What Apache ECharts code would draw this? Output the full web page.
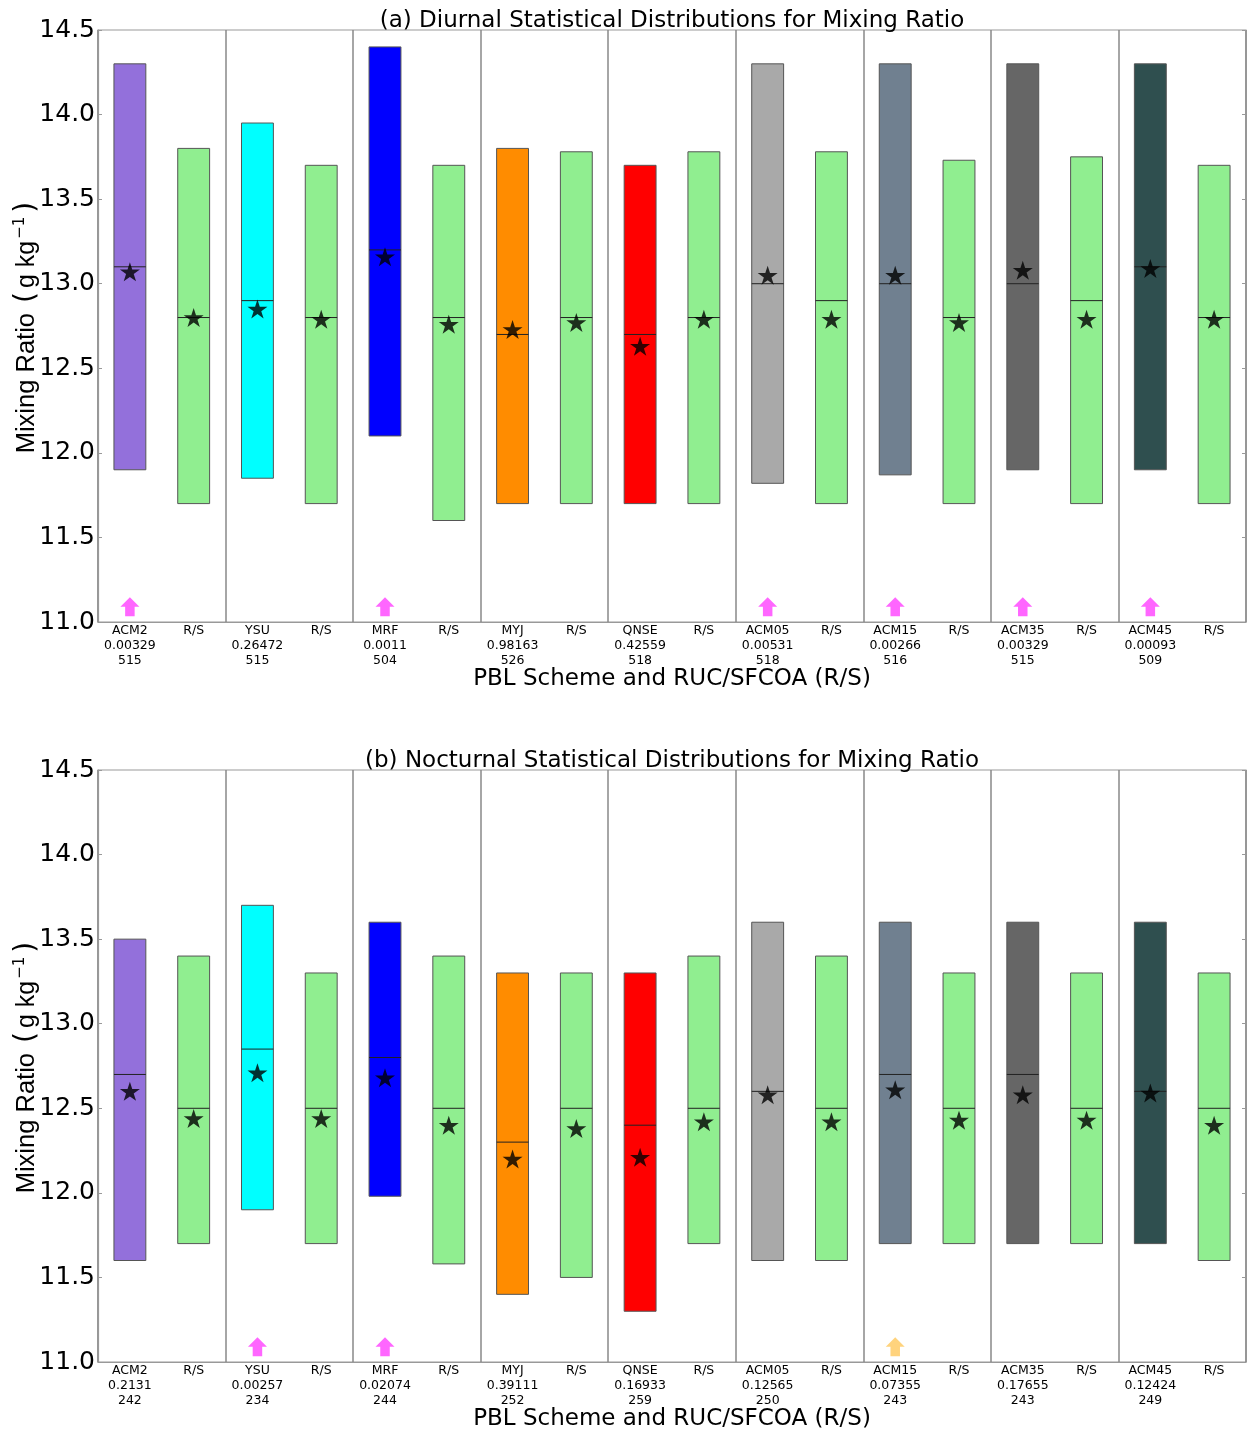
<!DOCTYPE html>
<html><head><meta charset="utf-8">
<script src="https://cdn.jsdelivr.net/npm/echarts@6/dist/echarts.min.js"></script>
<style>html,body{margin:0;padding:0;background:#fff}#c{width:1248px;height:1429px}</style>
</head><body><div id="c"></div><script>
// ---------- DATA ----------
const schemes = ['ACM2','YSU','MRF','MYJ','QNSE','ACM05','ACM15','ACM35','ACM45'];
const yTicks = [11.0, 11.5, 12.0, 12.5, 13.0, 13.5, 14.0, 14.5];

// (a) Diurnal
const pValA = ['0.00329','0.26472','0.0011','0.98163','0.42559','0.00531','0.00266','0.00329','0.00093'];
const countA = [515, 515, 504, 526, 518, 518, 516, 515, 509];
const modelLowA  = [11.90, 11.85, 12.10, 11.70, 11.70, 11.82, 11.87, 11.90, 11.90];
const modelHighA = [14.30, 13.95, 14.40, 13.80, 13.70, 14.30, 14.30, 14.30, 14.30];
const modelMedA  = [13.10, 12.90, 13.20, 12.70, 12.70, 13.00, 13.00, 13.00, 13.10];
const modelMeanA = [13.07, 12.85, 13.16, 12.73, 12.63, 13.05, 13.05, 13.08, 13.09];
const rsLowA  = [11.70, 11.70, 11.60, 11.70, 11.70, 11.70, 11.70, 11.70, 11.70];
const rsHighA = [13.80, 13.70, 13.70, 13.78, 13.78, 13.78, 13.73, 13.75, 13.70];
const rsMedA  = [12.80, 12.80, 12.80, 12.80, 12.80, 12.90, 12.80, 12.90, 12.80];
const rsMeanA = [12.80, 12.79, 12.76, 12.77, 12.79, 12.79, 12.77, 12.79, 12.79];

// (b) Nocturnal
const pValB = ['0.2131','0.00257','0.02074','0.39111','0.16933','0.12565','0.07355','0.17655','0.12424'];
const countB = [242, 234, 244, 252, 259, 250, 243, 243, 249];
const modelLowB  = [11.60, 11.90, 11.98, 11.40, 11.30, 11.60, 11.70, 11.70, 11.70];
const modelHighB = [13.50, 13.70, 13.60, 13.30, 13.30, 13.60, 13.60, 13.60, 13.60];
const modelMedB  = [12.70, 12.85, 12.80, 12.30, 12.40, 12.60, 12.70, 12.70, 12.60];
const modelMeanB = [12.60, 12.71, 12.68, 12.20, 12.21, 12.58, 12.61, 12.58, 12.59];
const rsLowB  = [11.70, 11.70, 11.58, 11.50, 11.70, 11.60, 11.70, 11.70, 11.60];
const rsHighB = [13.40, 13.30, 13.40, 13.30, 13.40, 13.40, 13.30, 13.30, 13.30];
const rsMedB  = [12.50, 12.50, 12.50, 12.50, 12.50, 12.50, 12.50, 12.50, 12.50];
const rsMeanB = [12.44, 12.44, 12.40, 12.38, 12.42, 12.42, 12.43, 12.43, 12.40];

// ---------- STYLE ----------
const FONT = 'DejaVu Sans';
const modelColors = ['#9370DB','#00FFFF','#0000FF','#FF8C00','#FF0000','#A9A9A9','#708090','#666666','#2F4F4F'];
const rsColor = '#90EE90';
const sigColor1 = '#FF40FF';   // p < 0.05
const sigColor2 = '#FFC85C';   // p < 0.10
const STAR = 'path://M50,0 L61.2,34.5 L97.6,34.5 L68.2,55.9 L79.4,90.5 L50,69.1 L20.6,90.5 L31.8,55.9 L2.4,34.5 L38.8,34.5 Z';
const ARROW = 'path://M10,0 L20,10 L15,10 L15,20 L5,20 L5,10 L0,10 Z';
const ARROW_LEVEL = 11.09;
const FRAME = '#999';

const panels = [
  {title:'(a) Diurnal Statistical Distributions for Mixing Ratio', top:30,
   pv:pValA, n:countA, lo:modelLowA, hi:modelHighA, med:modelMedA, mean:modelMeanA,
   rlo:rsLowA, rhi:rsHighA, rmed:rsMedA, rmean:rsMeanA},
  {title:'(b) Nocturnal Statistical Distributions for Mixing Ratio', top:770,
   pv:pValB, n:countB, lo:modelLowB, hi:modelHighB, med:modelMedB, mean:modelMeanB,
   rlo:rsLowB, rhi:rsHighB, rmed:rsMedB, rmean:rsMeanB}
];

const option = {backgroundColor:'#fff', animation:false, title:[], grid:[], xAxis:[], yAxis:[], series:[]};

panels.forEach((p, gi) => {
  const cats = [];
  const boxes = [], boxColors = [], stars = [], arrows = [];
  schemes.forEach((s, k) => {
    cats.push(s + '\n' + p.pv[k] + '\n' + p.n[k], 'R/S');
    boxes.push([2*k, p.lo[k], p.hi[k], p.med[k]]); boxColors.push(modelColors[k]);
    boxes.push([2*k+1, p.rlo[k], p.rhi[k], p.rmed[k]]); boxColors.push(rsColor);
    stars.push([2*k, p.mean[k]], [2*k+1, p.rmean[k]]);
    const pv = parseFloat(p.pv[k]);
    if (pv < 0.1) arrows.push({value:[2*k, ARROW_LEVEL], itemStyle:{color: pv < 0.05 ? sigColor1 : sigColor2}});
  });

  option.title.push({text:p.title, left:672, top:p.top - 20, textAlign:'center', padding:0,
    textStyle:{fontSize:23, fontWeight:'normal', fontFamily:FONT, color:'#000'}});
  option.grid.push({left:98, top:p.top, width:1148, height:592, show:true, borderColor:FRAME, borderWidth:1.2,
    backgroundColor:'#fff', containLabel:false, outerBoundsMode:'none'});

  const xBase = 3*gi;
  option.xAxis.push({
    type:'category', gridIndex:gi, data:cats, position:'bottom',
    axisLine:{lineStyle:{color:FRAME, width:1.2}},
    axisTick:{inside:true, alignWithLabel:true, length:4, lineStyle:{color:FRAME}},
    axisLabel:{interval:0, fontSize:12.5, lineHeight:15, margin:1, color:'#000', fontFamily:FONT},
    splitLine:{show:false},
    name:'PBL Scheme and RUC/SFCOA (R/S)', nameLocation:'middle', nameGap:46, nameMoveOverlap:false,
    nameTextStyle:{fontSize:23, fontFamily:FONT, color:'#000'}
  });
  option.xAxis.push({
    type:'category', gridIndex:gi, data:cats, position:'top',
    axisLine:{show:false}, axisTick:{inside:true, alignWithLabel:true, length:4, lineStyle:{color:FRAME}},
    axisLabel:{show:false}, splitLine:{show:false}
  });
  option.xAxis.push({
    type:'value', gridIndex:gi, min:0, max:schemes.length, interval:1, position:'bottom',
    axisLine:{show:false}, axisTick:{show:false}, axisLabel:{show:false},
    splitLine:{show:true, lineStyle:{color:'#888', width:1.5}}
  });

  const yBase = 2*gi;
  option.yAxis.push({
    type:'value', gridIndex:gi, min:yTicks[0], max:yTicks[yTicks.length-1], interval:0.5,
    axisLine:{show:true, lineStyle:{color:FRAME, width:1.2}},
    axisTick:{show:true, inside:true, length:4, lineStyle:{color:FRAME}},
    axisLabel:{fontSize:25, color:'#000', fontFamily:FONT, margin:3, formatter:v => v.toFixed(1)},
    splitLine:{show:false},
    name:'{a|Mixing Ratio }{p|(}{m|g kg}{s|−1}{p|)}', nameLocation:'middle', nameRotate:90, nameGap:57,
    nameMoveOverlap:false,
    nameTextStyle:{rich:{
      a:{fontSize:25.5, fontFamily:'Liberation Sans', color:'#000'},
      m:{fontSize:25, fontFamily:'Liberation Sans', color:'#000', padding:[0,1,0,1]},
      p:{fontSize:28, fontFamily:'DejaVu Sans', color:'#000', padding:[0,3,0,3]},
      s:{fontSize:15, fontFamily:'DejaVu Sans', color:'#000', padding:[0,1,13,1]}}}
  });
  option.yAxis.push({
    type:'value', gridIndex:gi, position:'right', min:yTicks[0], max:yTicks[yTicks.length-1], interval:0.5,
    axisLine:{show:false}, axisTick:{show:true, inside:true, length:4, lineStyle:{color:FRAME}},
    axisLabel:{show:false}, splitLine:{show:false}
  });

  option.series.push({
    type:'custom', xAxisIndex:xBase, yAxisIndex:yBase, data:boxes, z:2,
    encode:{x:0, y:[1,2,3]},
    renderItem:(params, api) => {
      const x = api.value(0);
      const top = api.coord([x, api.value(2)]);
      const bot = api.coord([x, api.value(1)]);
      const med = api.coord([x, api.value(3)]);
      const w = api.size([1, 0])[0] * 0.5;
      const x0 = top[0] - w/2;
      return {type:'group', children:[
        {type:'rect', shape:{x:x0, y:top[1], width:w, height:bot[1]-top[1]},
         style:{fill:boxColors[params.dataIndex], stroke:'#555', lineWidth:1}},
        {type:'line', shape:{x1:x0, y1:med[1], x2:x0+w, y2:med[1]},
         style:{stroke:'#222', lineWidth:1}}
      ]};
    }
  });
  option.series.push({
    type:'scatter', xAxisIndex:xBase, yAxisIndex:yBase, data:stars, z:5,
    symbol:STAR, symbolSize:[20,19], itemStyle:{color:'#000'}
  });
  option.series.push({
    type:'scatter', xAxisIndex:xBase, yAxisIndex:yBase, data:arrows, z:5,
    symbol:ARROW, symbolSize:[19,19]
  });
});

const chart = echarts.init(document.getElementById('c'), null, {renderer:'canvas'});
chart.setOption(option);
</script></body></html>
